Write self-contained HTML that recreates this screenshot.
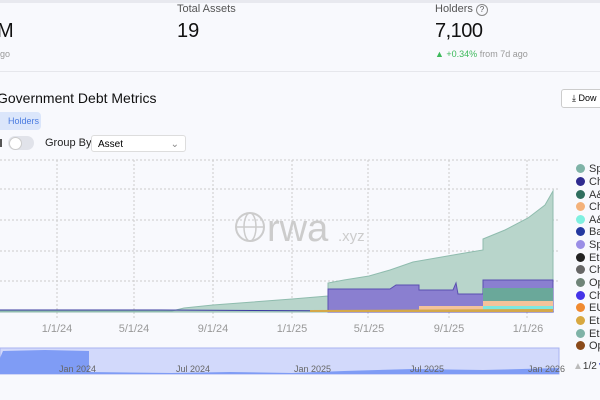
<!DOCTYPE html>
<html><head><style>
body{margin:0;width:600px;height:400px;overflow:hidden;background:#f8f9fd;font-family:"Liberation Sans",sans-serif;position:relative}
.a{position:absolute;white-space:nowrap}
.lg{position:absolute;left:576px;font-size:11px;color:#333;white-space:nowrap}
.lg i{display:inline-block;width:9px;height:9px;border-radius:50%;vertical-align:-1px;margin-right:4px}
</style></head><body>
<div class="a" style="left:0;top:0;width:600px;height:3px;background:#e8e9ef"></div>
<div class="a" style="left:177px;top:3px;font-size:11px;color:#555">Total Assets</div>
<div class="a" style="left:-3px;top:20px;font-size:20px;color:#111">M</div>
<div class="a" style="left:177px;top:20px;font-size:20px;color:#111">19</div>
<div class="a" style="left:435px;top:3px;font-size:11px;color:#555">Holders <span style="display:inline-block;width:10px;height:10px;border:1px solid #888;border-radius:50%;font-size:8px;text-align:center;line-height:10px">?</span></div>
<div class="a" style="left:435px;top:20px;font-size:20px;color:#111;letter-spacing:-0.5px">7,100</div>
<div class="a" style="left:0;top:49px;font-size:9px;color:#999">go</div>
<div class="a" style="left:435px;top:49px;font-size:9px;color:#999"><span style="color:#3cb95a">▲ +0.34%</span> from 7d ago</div>
<div class="a" style="left:0;top:71px;width:600px;height:1px;background:#e6e7ec"></div>
<div class="a" style="left:-3px;top:90px;font-size:14px;color:#111">Government Debt Metrics</div>
<div class="a" style="left:561px;top:89px;width:50px;height:17px;border:1px solid #ccc;border-radius:3px;background:#fff;font-size:9px;line-height:17px;padding-left:10px">⤓ Dow</div>
<div class="a" style="left:-4px;top:112px;width:43px;height:18px;background:#dbe6fb;border-radius:4px;font-size:9px;color:#4a7be0;line-height:18px;text-align:right;padding-right:2px">Holders</div>
<div class="a" style="left:0;top:139px;width:2px;height:8px;background:#555"></div>
<div class="a" style="left:8px;top:136px;width:26px;height:14px;background:#e1e3ea;border-radius:7px"></div>
<div class="a" style="left:9px;top:137px;width:11px;height:11px;background:#fff;border-radius:50%;border:1px solid #ccc"></div>
<div class="a" style="left:45px;top:137px;font-size:11px;color:#222">Group By</div>
<div class="a" style="left:91px;top:135px;width:95px;height:17px;border:1px solid #ddd;border-radius:3px;background:#fff;font-size:10px;line-height:17px;padding-left:6px;box-sizing:border-box">Asset<span style="position:absolute;right:6px;color:#888">⌄</span></div>
<svg class="a" style="left:0;top:0" width="600" height="400">
<g stroke="#ccc" stroke-dasharray="2,2" fill="none">
<line x1="0" y1="160" x2="558" y2="160"/><line x1="0" y1="189" x2="558" y2="189"/><line x1="0" y1="220" x2="558" y2="220"/><line x1="0" y1="251" x2="558" y2="251"/><line x1="0" y1="281" x2="558" y2="281"/>
<line x1="57" y1="160" x2="57" y2="318"/><line x1="134" y1="160" x2="134" y2="318"/><line x1="213" y1="160" x2="213" y2="318"/><line x1="292" y1="160" x2="292" y2="318"/><line x1="368" y1="160" x2="368" y2="318"/><line x1="449" y1="160" x2="449" y2="318"/><line x1="527" y1="160" x2="527" y2="318"/>
</g>
<line x1="0" y1="312" x2="554" y2="312" stroke="#bbb"/>
<circle cx="250" cy="227" r="14" fill="none" stroke="#ccc" stroke-width="2"/>
<ellipse cx="250" cy="227" rx="6" ry="14" fill="none" stroke="#ccc" stroke-width="1.5"/>
<line x1="236" y1="227" x2="264" y2="227" stroke="#ccc" stroke-width="1.5"/>
<text x="267" y="241" font-size="38" fill="#ccc" font-family="Liberation Sans">rwa</text><text x="338" y="241" font-size="15" fill="#ccc">.xyz</text>
<path d="M0,311 L172,311 L184,308 L213,305 L253,302 L292,299 L328,296 L328,283 L344,280 L369,276 L390,270 L413,262 L436,258 L459,254 L483,250 L483,239 L505,230 L528,218 L545,205 L553,191 L553,312 L0,312Z" fill="#b8d5cb" stroke="#8fbcae"/>
<path d="M328,296 L328,289 L390,289 L396,285 L419,285 L419,290 L453,290 L456,283 L458,294 L483,294 L483,280 L553,280 L553,312 L328,312Z" fill="#8a7fd0" stroke="#5a4fb0"/>
<path d="M483,288 L553,288 L553,312 L483,312Z" fill="#6aa89a"/>
<path d="M419,306 L483,306 L483,301 L553,301 L553,312 L419,312Z" fill="#f4c39a"/>
<path d="M483,306 L553,306 L553,310 L483,310Z" fill="#7ee8e0"/>
<path d="M0,310 L161,310 L367,311" stroke="#3a3aa0" fill="none"/>
<path d="M310,312 L310,310 L553,309 L553,312Z" fill="#d4a84a"/>
<g font-size="11" fill="#999" text-anchor="middle"><text x="57" y="332">1/1/24</text><text x="134" y="332">5/1/24</text><text x="213" y="332">9/1/24</text><text x="292" y="332">1/1/25</text><text x="369" y="332">5/1/25</text><text x="449" y="332">9/1/25</text><text x="528" y="332">1/1/26</text></g>
<rect x="0" y="348" width="559" height="26" fill="#d2d9fb" stroke="#a9b4f0"/>
<path d="M0,374 L0,358 L3,351 L45,350 L89,351 L89,372 L172,373 L230,372 L292,373 L344,371 L413,369 L483,370 L559,368 L559,374Z" fill="#7f9cf5"/>
<g font-size="9" fill="#666"><text x="59" y="372">Jan 2024</text><text x="176" y="372">Jul 2024</text><text x="294" y="372">Jan 2025</text><text x="410" y="372">Jul 2025</text><text x="528" y="372">Jan 2026</text></g>
<text x="573" y="369" font-size="10" fill="#333"><tspan fill="#bbb">▲</tspan>1/2<tspan fill="#2233cc">▼</tspan></text>
</svg>
<div class="lg" style="top:163px"><i style="background:#7fb3a7"></i>Sp</div>
<div class="lg" style="top:176px"><i style="background:#2e2a8f"></i>Ch</div>
<div class="lg" style="top:189px"><i style="background:#2f6e5e"></i>A&amp;</div>
<div class="lg" style="top:201px"><i style="background:#f4b27a"></i>Ch</div>
<div class="lg" style="top:214px"><i style="background:#7ff0e0"></i>A&amp;</div>
<div class="lg" style="top:226px"><i style="background:#23389f"></i>Ba</div>
<div class="lg" style="top:239px"><i style="background:#9a8ee6"></i>Sp</div>
<div class="lg" style="top:252px"><i style="background:#222"></i>Eth</div>
<div class="lg" style="top:264px"><i style="background:#666"></i>Ch</div>
<div class="lg" style="top:277px"><i style="background:#6f8478"></i>Op</div>
<div class="lg" style="top:290px"><i style="background:#4433e8"></i>Ch</div>
<div class="lg" style="top:302px"><i style="background:#f08a30"></i>EU</div>
<div class="lg" style="top:315px"><i style="background:#d8a840"></i>Eth</div>
<div class="lg" style="top:328px"><i style="background:#7fb3a7"></i>Eth</div>
<div class="lg" style="top:340px"><i style="background:#8a4a1a"></i>Op</div>
</body></html>
